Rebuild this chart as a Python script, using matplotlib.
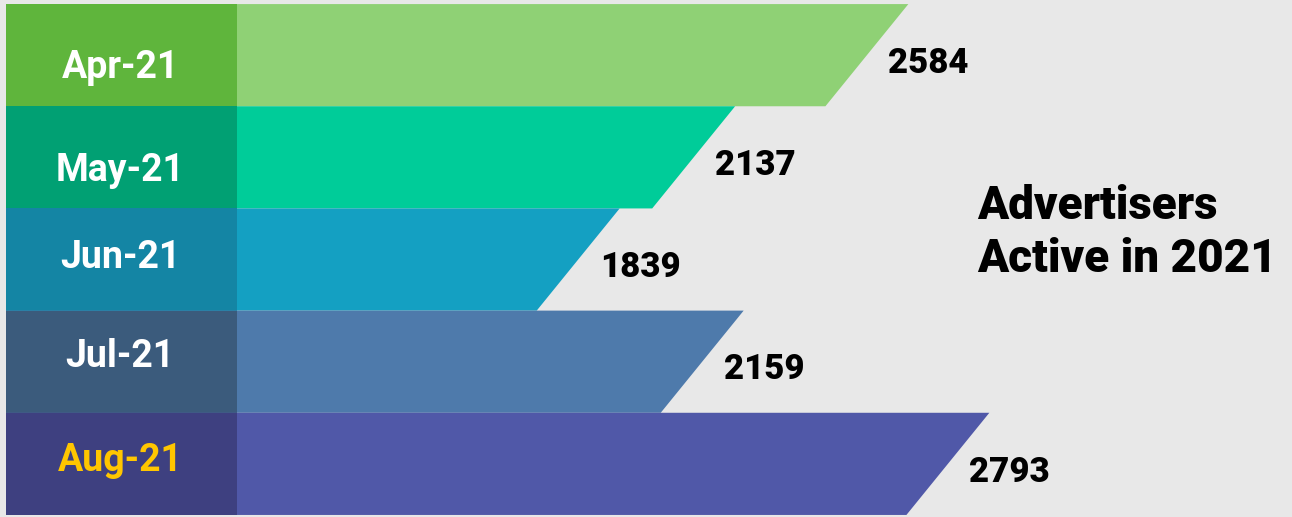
import matplotlib.pyplot as plt
from matplotlib.patches import Polygon, Rectangle
import matplotlib.transforms as mtransforms

months = ["Apr-21", "May-21", "Jun-21", "Jul-21", "Aug-21"]
advertisers = [2584, 2137, 1839, 2159, 2793]
band_colors = ["#5fb53c", "#01a073", "#1485a4", "#3b5b7c", "#3e4080"]
bar_colors = ["#8fd175", "#00cc99", "#14a0c2", "#4e7aab", "#5058a8"]
month_colors = ["white", "white", "white", "white", "#ffc600"]

plt.rcParams['font.family'] = ['Roboto', 'DejaVu Sans']

fig = plt.figure(figsize=(12.92, 5.17), dpi=100, facecolor="#e8e8e8")
ax = fig.add_axes([0, 0, 1, 1])
ax.set_facecolor("#e8e8e8")
x0, x1 = 240, 3574
ax.set_xlim(x0, x1)
ax.set_ylim(5.02, -0.04)
ax.axis("off")

left = x0 + 6 / 1292 * (x1 - x0)
slant = 214  # horizontal run of the cut edge, in value units
band_trans = mtransforms.blended_transform_factory(ax.transAxes, ax.transData)
label_dy = [0.62, 0.63, 0.48, 0.45, 0.47]

for i, (m, v) in enumerate(zip(months, advertisers)):
    top, bot = i, i + 1
    ax.add_patch(Polygon([(left, top), (v, top), (v - slant, bot), (left, bot)],
                         closed=True, facecolor=bar_colors[i], edgecolor="none"))
    ax.add_patch(Rectangle((6 / 1292, top), (237 - 6) / 1292, 1,
                           transform=band_trans, facecolor=band_colors[i],
                           edgecolor="none"))
    ax.text(0.093, i + label_dy[i], m, transform=band_trans, ha="center",
            va="center", color=month_colors[i], fontsize=27, fontweight="bold")
    ax.annotate(str(v), xy=(v, i + 0.58), xytext=(-20, 0),
                textcoords="offset pixels", ha="left", va="center",
                fontsize=25, fontweight=900, color="black")

fig.text(0.756, 0.55, "Advertisers\nActive in 2021", ha="left", va="center",
         fontsize=33, fontweight=900, color="black", linespacing=1.24)

fig.savefig("out.png", dpi=100, facecolor=fig.get_facecolor())
